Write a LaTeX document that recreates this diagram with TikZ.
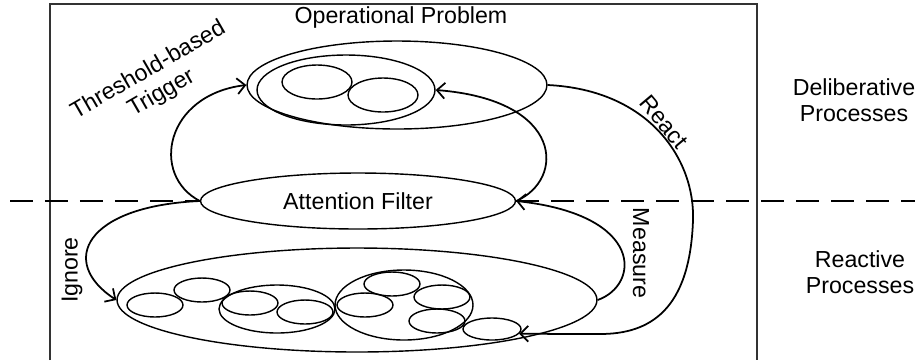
\documentclass[tikz,border=0pt]{standalone}
\usepackage{fontspec}
\setmainfont{Liberation Sans}
\usepackage{tikz}
\usetikzlibrary{shapes.geometric,arrows.meta}

\begin{document}
\begin{tikzpicture}[x=0.02cm, y=-0.02cm,
    font=\fontsize{13.2}{15}\selectfont,
    oval/.style={ellipse, draw, line width=0.8pt, inner sep=0pt},
    blob/.style={oval, minimum width=1.12cm, minimum height=0.48cm},
    flow/.style={-{Straight Barb[length=4.5pt,width=9pt]}, line width=1pt},
    divider/.style={line width=1.6pt, dash pattern=on 0.46cm off 0.24cm},
    lbl/.style={align=center, inner sep=0pt}]

    \useasboundingbox (0,0) rectangle (915,360);

    % frame
    \draw[line width=0.9pt, black!80] (50,360) -- (50,4) -- (757,4) -- (757,360);

    % deliberative level
    \node[lbl] (optitle) at (401,17) {Operational Problem};
    \node[oval, minimum width=6cm, minimum height=1.76cm] (prob) at (397,85) {};
    \node[oval, minimum width=3.56cm, minimum height=1.4cm] (probin) at (346,90) {};
    \node[blob, minimum width=1.4cm, minimum height=0.68cm] (p1) at (317,82) {};
    \node[blob, minimum width=1.4cm, minimum height=0.68cm] (p2) at (383,95) {};

    % filter
    \node[oval, minimum width=6.3cm, minimum height=1.12cm] (filter) at (358,201) {Attention Filter};

    % divider
    \coordinate (divl) at (10,201);
    \coordinate (divr) at (915,201);
    \draw[divider] (divl) -- (filter.west);
    \draw[divider] (filter.east) -- (divr);

    % reactive level
    \node[oval, minimum width=9.6cm, minimum height=2.08cm] (react) at (357,300) {};
    \node[blob] (r1) at (155,305) {};
    \node[blob] (r2) at (202,290) {};
    \node[oval, minimum width=2.32cm, minimum height=0.96cm] (g1) at (277,309) {};
    \node[blob] (r3) at (250,303) {};
    \node[blob] (r4) at (305,312) {};
    \node[oval, minimum width=2.76cm, minimum height=1.4cm] (g2) at (404,305) {};
    \node[blob] (r5) at (365,305) {};
    \node[blob] (r6) at (392,284) {};
    \node[blob] (r7) at (442,297) {};
    \node[blob] (r8) at (437,321) {};
    \node[blob, minimum width=1.16cm, minimum height=0.44cm] (r9) at (492,329) {};

    % connectors
    \draw[flow] (filter.west) .. controls (150,175) and (165,95) .. (prob.west);
    \draw[flow] (filter.east) .. controls (565,180) and (565,100) .. (probin.east);
    \draw[flow] (prob.east) .. controls (650,90) and (695,160) .. (693,220)
        .. controls (690,310) and (650,334) .. (600,334) -- (r9.-10);
    \draw[flow] (react.east) .. controls (640,285) and (645,215) .. (filter.east);
    \draw[flow] (filter.west) .. controls (85,206) and (58,262) .. (react.west);

    % labels
    \node[lbl, rotate=30] (trig) at (155,82) {Threshold-based\\Trigger};
    \node[lbl, rotate=-50] (reactlbl) at (664,122) {React};
    \node[lbl, rotate=-90] (measure) at (641,253) {Measure};
    \node[lbl, rotate=90] (ignore) at (72,270) {Ignore};
    \node[lbl] (delib) at (854,100) {Deliberative\\Processes};
    \node[lbl] (reactv) at (860,272) {Reactive\\Processes};
\end{tikzpicture}
\end{document}
